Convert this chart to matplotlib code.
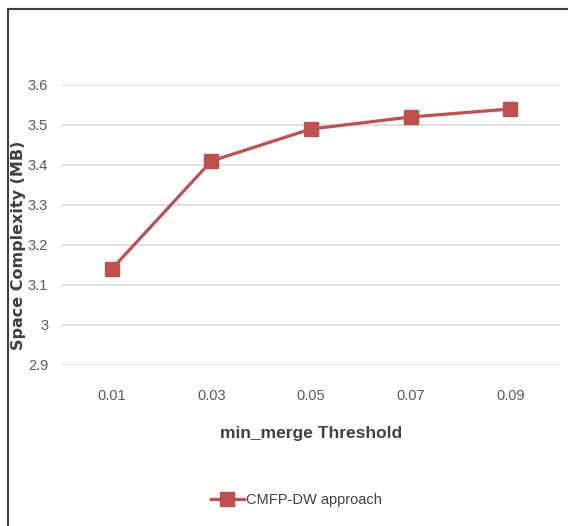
import matplotlib.pyplot as plt
from matplotlib.lines import Line2D

thresholds = ['0.01', '0.03', '0.05', '0.07', '0.09']
space_mb = [3.14, 3.41, 3.49, 3.52, 3.54]
yticks = [2.9, 3.0, 3.1, 3.2, 3.3, 3.4, 3.5, 3.6]
ytick_labels = ['2.9', '3', '3.1', '3.2', '3.3', '3.4', '3.5', '3.6']

plt.rcParams['font.family'] = ['Liberation Sans', 'DejaVu Sans']

W, H = 568, 526
fig = plt.figure(figsize=(W / 100, H / 100), dpi=100)
ax = fig.add_axes([62 / W, (H - 365) / H, (560 - 62) / W, (365 - 85) / H])

red = '#C0504D'
x = range(len(thresholds))
ax.plot(x, space_mb, color=red, linewidth=2.3, marker='s', markersize=9.5,
        label='CMFP-DW approach')

ax.set_xlim(-0.5, len(thresholds) - 0.5)
ax.set_ylim(2.9, 3.6)
ax.set_yticks(yticks)
ax.set_yticklabels(ytick_labels)
ax.set_xticks(list(x))
ax.set_xticklabels(thresholds)
ax.tick_params(length=0, labelsize=10.5, colors='#595959')
ax.tick_params(axis='y', pad=10)
ax.tick_params(axis='x', pad=17)
ax.grid(axis='y', color='#D9D9D9', linewidth=1.2)
ax.set_axisbelow(True)
for s in ax.spines.values():
    s.set_visible(False)

ax.set_xlabel('min_merge Threshold', fontsize=12.5, fontweight='bold',
              color='#404040', labelpad=17)
fig.text(19 / W, (H - 245) / H, 'Space Complexity (MB)', rotation=90,
         ha='center', va='center', fontsize=11.5, fontweight='bold',
         color='#404040', family='DejaVu Sans')

fig.legend(loc='center', bbox_to_anchor=(296 / W, (H - 500) / H), frameon=False,
           fontsize=10.5, labelcolor='#404040', handlelength=2.3,
           handletextpad=0.1)

# frame around the chart (left and top edges only are visible)
fig.add_artist(Line2D([8 / W, 8 / W], [0, (H - 9) / H], transform=fig.transFigure,
                      color='#404040', linewidth=1.5))
fig.add_artist(Line2D([8 / W, 1], [(H - 9) / H, (H - 9) / H], transform=fig.transFigure,
                      color='#404040', linewidth=1.5))

fig.savefig('out.png', dpi=100)
